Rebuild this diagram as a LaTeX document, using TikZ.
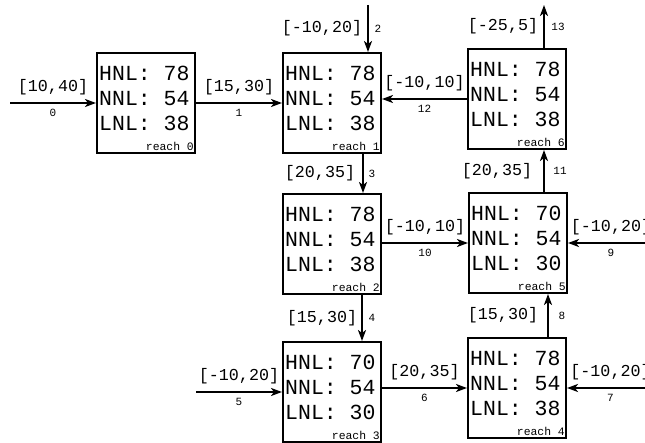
\documentclass[tikz,border=0pt]{standalone}
\usepackage{fontspec}
\newfontfamily\mono{Liberation Mono}
\usetikzlibrary{arrows.meta}
\begin{document}
\begin{tikzpicture}[x=1pt,y=-1pt,
  reach/.style={draw, line width=2pt, minimum width=98pt, minimum height=100pt, inner sep=0pt},
  vals/.style={font=\mono\fontsize{21.5}{25}\selectfont, align=left, anchor=west, inner sep=0pt},
  rlab/.style={font=\mono\fontsize{11.4}{12}\selectfont, anchor=base east, inner sep=0pt},
  lab/.style={font=\mono\fontsize{16.7}{18}\selectfont, inner sep=0pt},
  num/.style={font=\mono\fontsize{11}{12}\selectfont, inner sep=0pt},
  flow/.style={line width=2pt, -{Stealth[length=11pt,width=8pt,inset=3pt]}}
]
\useasboundingbox (0,0) rectangle (645,443);
\foreach \n/\x/\y/\hv/\nv/\lv in {0/146/103/78/54/38, 1/332/103/78/54/38, 2/332/244/78/54/38, 3/332/392/70/54/30, 4/517/388/78/54/38, 5/518/243/70/54/30, 6/517/99/78/54/38}{
  \node[reach] (r\n) at (\x,\y) {};
  \node[vals] (v\n) at ([xshift=3pt,yshift=5pt]r\n.west) {HNL: \hv\\NNL: \nv\\LNL: \lv};
  \node[rlab] (t\n) at ([xshift=-2pt,yshift=3.5pt]r\n.south east) {reach \n};
}
\coordinate (s0) at (10,103);
\coordinate (s2) at (368,5);
\coordinate (s5) at (196,392);
\coordinate (s7) at (654,388);
\coordinate (s9) at (654,243);
\coordinate (s13) at (544,5);
% horizontal
\draw[flow] (s0) -- node[lab, yshift=16pt] (l0) {[10,40]} node[num, yshift=-10pt] (n0) {0} (s0 -| r0.west);
\draw[flow] (r0.east) -- node[lab, yshift=16pt] (l1) {[15,30]} node[num, yshift=-10pt] (n1) {1} (r1.west);
\draw[flow] (s5) -- node[lab, yshift=16pt] (l5) {[-10,20]} node[num, yshift=-10pt] (n5) {5} (s5 -| r3.west);
\draw[flow] (r3.east |- r4.west) -- node[lab, yshift=16pt] (l6) {[20,35]} node[num, yshift=-10pt] (n6) {6} (r4.west);
\draw[flow] (s7) -- node[lab, yshift=16pt] (l7) {[-10,20]} node[num, yshift=-10pt] (n7) {7} (s7 -| r4.east);
\draw[flow] (s9) -- node[lab, yshift=16pt] (l9) {[-10,20]} node[num, yshift=-10pt] (n9) {9} (s9 -| r5.east);
\draw[flow] (r2.east |- r5.west) -- node[lab, yshift=16pt] (l10) {[-10,10]} node[num, yshift=-10pt] (n10) {10} (r5.west);
\draw[flow] (r6.west) -- node[lab, yshift=16pt] (l12) {[-10,10]} node[num, yshift=-10pt] (n12) {12} (r6.west -| r1.east);
% vertical
\draw[flow] (s2) -- node[lab, xshift=-46pt] (l2) {[-10,20]} node[num, xshift=10pt] (n2) {2} (s2 |- r1.north);
\draw[flow] ([xshift=31pt]r1.south) -- node[lab, xshift=-43pt] (l3) {[20,35]} node[num, xshift=9pt] (n3) {3} ([xshift=31pt]r2.north);
\draw[flow] ([xshift=30pt]r2.south) -- node[lab, xshift=-40pt] (l4) {[15,30]} node[num, xshift=10pt] (n4) {4} ([xshift=30pt]r3.north);
\draw[flow] ([xshift=31pt]r4.north) -- node[lab, xshift=-45pt] (l8) {[15,30]} node[num, xshift=14pt] (n8) {8} ([xshift=30pt]r5.south);
\draw[flow] ([xshift=26pt]r5.north) -- node[lab, xshift=-47pt] (l11) {[20,35]} node[num, xshift=16pt] (n11) {11} ([xshift=27pt]r6.south);
\draw[flow] ([xshift=27pt]r6.north) -- node[lab, xshift=-41pt] (l13) {[-25,5]} node[num, xshift=14pt] (n13) {13} (s13);
\end{tikzpicture}
\end{document}
